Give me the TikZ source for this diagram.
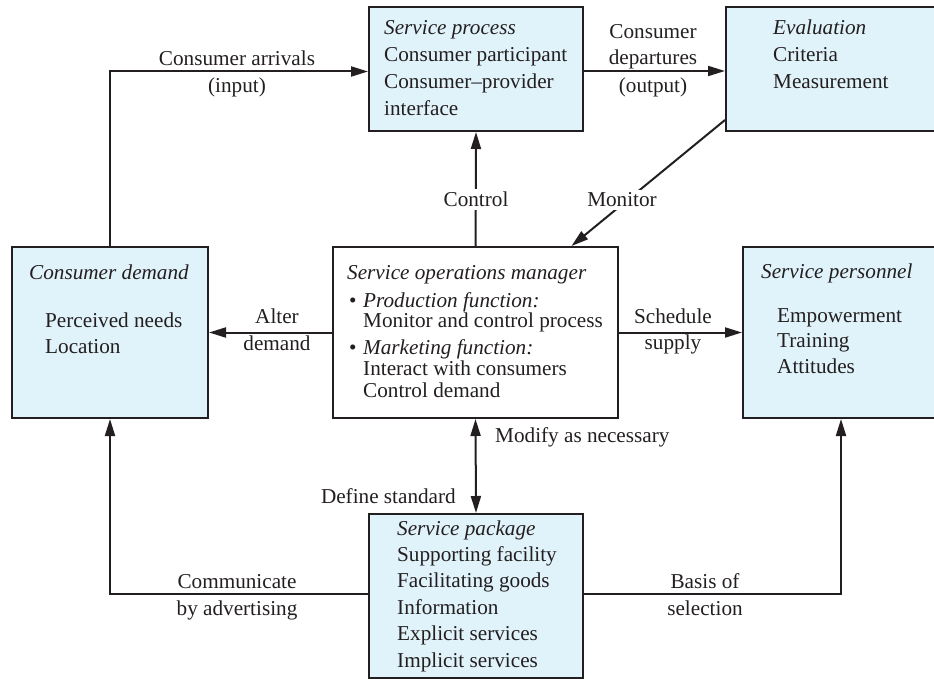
\documentclass[tikz,border=0pt]{standalone}
\usepackage{fontspec}
\setmainfont{Liberation Serif}
\usetikzlibrary{arrows.meta}
\definecolor{boxfill}{HTML}{E0F2FA}
\definecolor{ink}{HTML}{231F20}
\tikzset{
  box/.style={draw=ink, line width=2pt, fill=boxfill, inner sep=0pt},
  plainbox/.style={draw=ink, line width=2pt, fill=white, inner sep=0pt},
  txt/.style={inner sep=0pt, text=ink, font=\fontsize{21.2}{25}\selectfont},
  lbl/.style={txt, anchor=base},
  gap/.style={fill=white, inner sep=3pt},
  conn/.style={draw=ink, line width=2pt},
  arr/.style={conn, -{Triangle[length=17pt,width=10pt]}},
  darr/.style={conn, {Triangle[length=17pt,width=10pt]}-{Triangle[length=17pt,width=10pt]}},
}
\begin{document}
\begin{tikzpicture}[x=1pt,y=-1pt]
\useasboundingbox (0,0) rectangle (934,679);
\clip (0,0) rectangle (934,679);

% boxes
\node[box, minimum width=214pt, minimum height=124pt] (proc) at (476,69) {};
\node[box, minimum width=214pt, minimum height=124pt] (eval) at (833,69) {};
\node[box, minimum width=196pt, minimum height=171pt] (dem) at (110,332.5) {};
\node[plainbox, minimum width=285pt, minimum height=171pt] (mgr) at (475.5,332.5) {};
\node[box, minimum width=196pt, minimum height=171pt] (pers) at (841,332.5) {};
\node[box, minimum width=214pt, minimum height=164pt] (pkg) at (476,596) {};

% service process
\node[txt, anchor=base west] (procT) at (384,35) {\itshape Service process};
\foreach \t [count=\i] in {Consumer participant, Consumer–provider, interface}
  \node[txt, anchor=base west] (procL\i) at (384,35+26.7*\i) {\t};

% evaluation
\node[txt, anchor=base west] (evalT) at (773,35) {\itshape Evaluation};
\foreach \t [count=\i] in {Criteria, Measurement}
  \node[txt, anchor=base west] (evalL\i) at (773,35+26.7*\i) {\t};

% consumer demand
\node[txt, anchor=base west] (demT) at (29,279) {\itshape Consumer demand};
\foreach \t [count=\i] in {Perceived needs, Location}
  \node[txt, anchor=base west] (demL\i) at (45,301+26*\i) {\t};

% service personnel
\node[txt, anchor=base west] (persT) at (761,278) {\itshape Service personnel};
\foreach \t [count=\i] in {Empowerment, Training, Attitudes}
  \node[txt, anchor=base west] (persL\i) at (777,296.5+25.5*\i) {\t};

% service package
\node[txt, anchor=base west] (pkgT) at (397,535) {\itshape Service package};
\foreach \t [count=\i] in {Supporting facility, Facilitating goods, Information, Explicit services, Implicit services}
  \node[txt, anchor=base west] (pkgL\i) at (397,535+26.4*\i) {\t};

% service operations manager
\node[txt, anchor=base west] (mgrT) at (347,279) {\itshape Service operations manager};
\node[txt, anchor=base west] (mgrA) at (349,307) {\makebox[14pt][l]{\textbullet}\textit{Production function:}};
\node[txt, anchor=base west] (mgrA1) at (363,327) {Monitor and control process};
\node[txt, anchor=base west] (mgrB) at (349,354) {\makebox[14pt][l]{\textbullet}\textit{Marketing function:}};
\node[txt, anchor=base west] (mgrB1) at (363,375) {Interact with consumers};
\node[txt, anchor=base west] (mgrB2) at (363,397) {Control demand};

% connectors
\draw[arr] (dem.north) |- ([yshift=-2.5pt]proc.west);
\draw[arr] ([yshift=-2pt]proc.east) -- ([yshift=-2pt]eval.west);
\draw[arr] (mgr.north) -- (proc.south);
\draw[arr] ([yshift=12pt]eval.south west) -- ([xshift=96pt]mgr.north);
\draw[arr] (mgr.west) -- (dem.east);
\draw[arr] (mgr.east) -- (pers.west);
\draw[darr] (mgr.south) -- (pkg.north);
\draw[arr] ([yshift=2pt]pkg.west) -| (dem.south);
\draw[arr] ([yshift=2pt]pkg.east) -| (pers.south);

% connector labels
\node[lbl] (arrA) at (237,66) {Consumer arrivals};
\node[lbl] (arrB) at (237,93) {(input)};
\node[lbl] (depA) at (653,39) {Consumer};
\node[lbl] (depB) at (653,65) {departures};
\node[lbl] (depC) at (653,93) {(output)};
\node[lbl, gap] (ctl) at (476,207) {Control};
\node[lbl, gap] (mon) at (622,207) {Monitor};
\node[lbl] (altA) at (277,323) {Alter};
\node[lbl] (altB) at (277,350) {demand};
\node[lbl] (schA) at (673,323) {Schedule};
\node[lbl] (schB) at (673,349) {supply};
\node[txt, anchor=base west] (mod) at (495,442) {Modify as necessary};
\node[txt, anchor=base east] (def) at (456,503) {Define standard};
\node[lbl] (comA) at (237,588) {Communicate};
\node[lbl] (comB) at (237,615) {by advertising};
\node[lbl] (basA) at (705,588) {Basis of};
\node[lbl] (basB) at (705,615) {selection};
\end{tikzpicture}
\end{document}
